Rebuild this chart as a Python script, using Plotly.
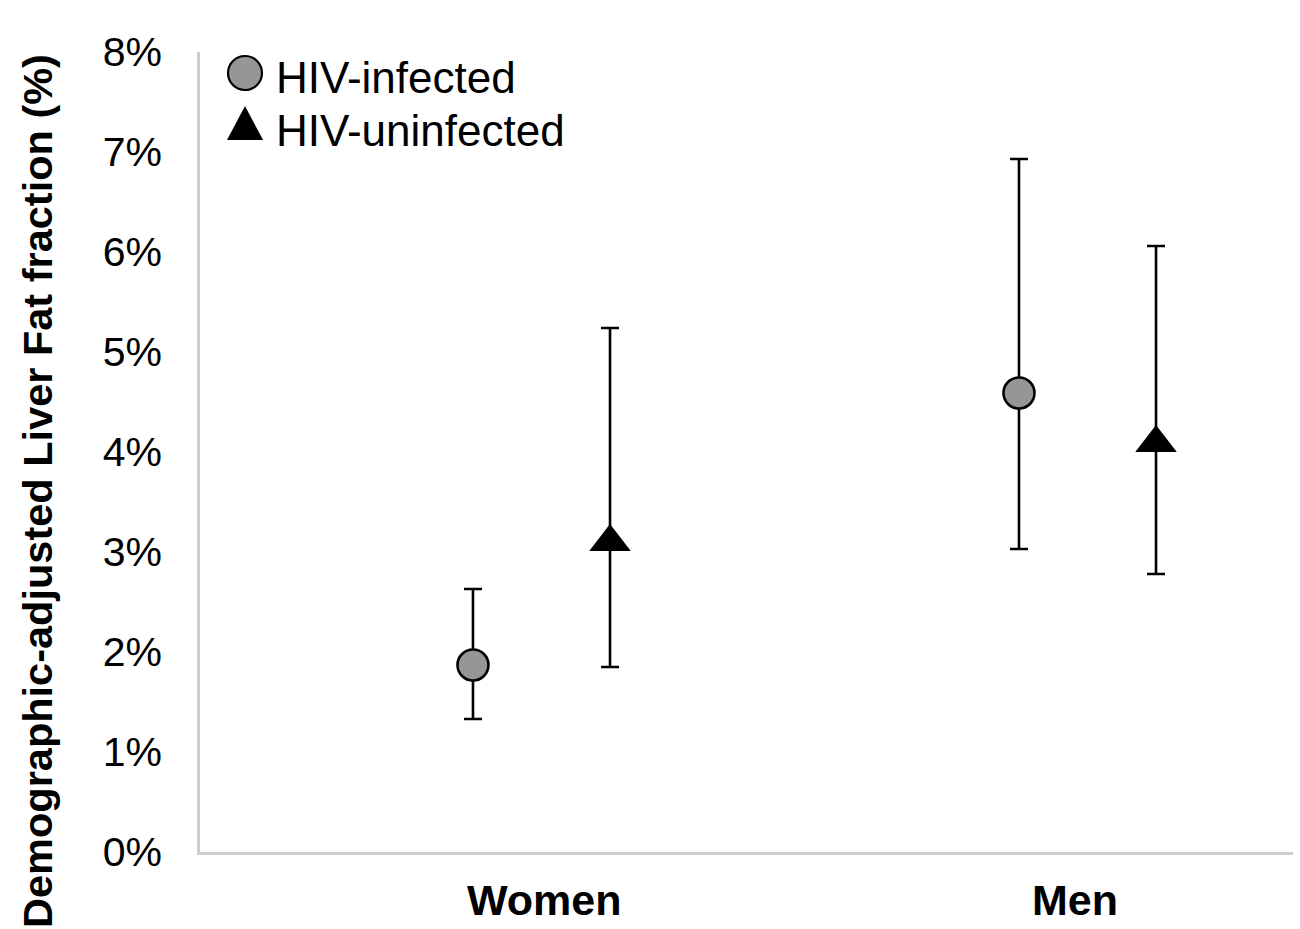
import plotly.graph_objects as go

# ---- data ----
groups = ["Women", "Men"]
group_pos = [1.0, 2.0]
series_names = ["HIV-infected", "HIV-uninfected"]
infected_mean = [1.87, 4.59]
infected_upper = [2.63, 6.93]
infected_lower = [1.33, 3.03]
uninfected_mean = [3.10, 4.09]
uninfected_upper = [5.24, 6.06]
uninfected_lower = [1.85, 2.78]
y_ticks = [0, 1, 2, 3, 4, 5, 6, 7, 8]
y_ticktext = ["0%", "1%", "2%", "3%", "4%", "5%", "6%", "7%", "8%"]

FONT = "Liberation Sans, Arial, Helvetica, sans-serif"
offset = 0.1255

def xs(sign):
    return [p + sign * offset for p in group_pos]

def err(mean, upper, lower):
    return dict(type="data", symmetric=False,
                array=[u - m for u, m in zip(upper, mean)],
                arrayminus=[m - l for m, l in zip(mean, lower)],
                color="black", thickness=2.6, width=9)

fig = go.Figure()
fig.add_trace(go.Scatter(
    x=xs(-1), y=infected_mean, mode="markers", name=series_names[0],
    error_y=err(infected_mean, infected_upper, infected_lower),
    marker=dict(symbol="circle", size=31, color="#969696",
                line=dict(color="black", width=2.6)),
    showlegend=False, hoverinfo="skip"))
fig.add_trace(go.Scatter(
    x=xs(1), y=uninfected_mean, mode="markers", name=series_names[1],
    error_y=err(uninfected_mean, uninfected_upper, uninfected_lower),
    marker=dict(symbol="triangle-up", size=36, color="black",
                line=dict(color="black", width=0)),
    showlegend=False, hoverinfo="skip"))

L, R, T, B = 200, 7, 52, 77
W, H = 1300, 929
pw, ph = W - L - R, H - T - B

def px_x(px):
    return (px - L) / pw

def px_y(py):
    return (H - B - py) / ph

# custom legend (large symbols as in the reference)
shapes = [
    dict(type="circle", xref="paper", yref="paper",
         xsizemode="pixel", ysizemode="pixel",
         xanchor=px_x(245), yanchor=px_y(73),
         x0=-17, x1=17, y0=-17, y1=17,
         fillcolor="#969696", line=dict(color="black", width=2.2)),
    dict(type="path", xref="paper", yref="paper",
         xsizemode="pixel", ysizemode="pixel",
         xanchor=px_x(245), yanchor=px_y(140),
         path="M -18,0 L 18,0 L 0,34 Z",
         fillcolor="black", line=dict(color="black", width=0)),
]
annotations = [
    dict(text=series_names[0], xref="paper", yref="paper",
         x=px_x(274), y=px_y(78), xanchor="left", yanchor="middle",
         showarrow=False, font=dict(family=FONT, size=44, color="black")),
    dict(text=series_names[1], xref="paper", yref="paper",
         x=px_x(274), y=px_y(130), xanchor="left", yanchor="middle",
         showarrow=False, font=dict(family=FONT, size=44, color="black")),
    dict(text="<b>Demographic-adjusted Liver Fat fraction (%)</b>",
         xref="paper", yref="paper", x=px_x(37), y=px_y(491),
         xanchor="center", yanchor="middle", textangle=-90,
         showarrow=False, font=dict(family=FONT, size=41.5, color="black")),
]

fig.update_layout(
    width=W, height=H,
    margin=dict(l=L, r=R, t=T, b=B, autoexpand=False),
    paper_bgcolor="white", plot_bgcolor="white",
    font=dict(family=FONT, color="black"),
    shapes=shapes, annotations=annotations,
    showlegend=False, hovermode=False,
)
fig.update_xaxes(
    range=[1 - 341.5 / 546, 2 + 205.5 / 546],
    tickvals=[1.005, 1.977], ticktext=["<b>%s</b>" % g for g in groups],
    tickfont=dict(family=FONT, size=43, color="black"),
    showgrid=False, zeroline=False, automargin=False,
    showline=True, linecolor="#cccccc", linewidth=2.6,
    ticks="", ticklabelstandoff=9,
)
fig.update_yaxes(
    range=[0, 8], tickvals=y_ticks, ticktext=y_ticktext,
    tickfont=dict(family=FONT, size=41, color="black"),
    showgrid=False, zeroline=False, automargin=False,
    showline=True, linecolor="#cccccc", linewidth=2.6,
    ticks="", ticklabelstandoff=27,
)

fig.write_html(
    "out.html",
    config={"displayModeBar": False},
    post_script="document.body.style.margin='0';document.body.style.overflow='hidden';",
)
